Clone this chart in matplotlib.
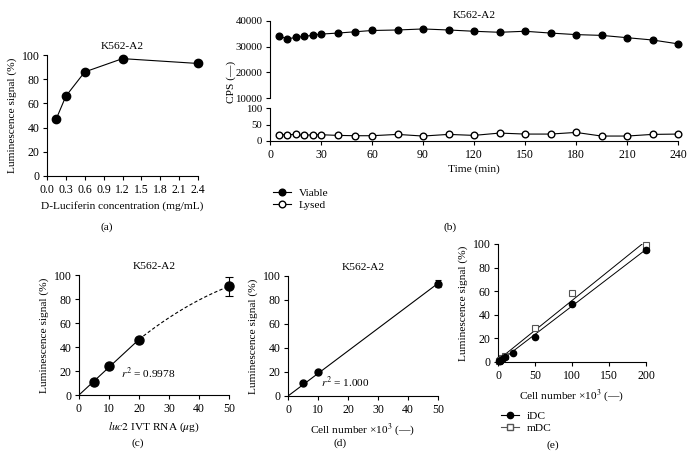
import matplotlib
matplotlib.use("Agg")
import matplotlib.pyplot as plt
from matplotlib.lines import Line2D
import numpy as np

plt.rcParams['font.family'] = ['Liberation Serif', 'DejaVu Serif']
plt.rcParams['mathtext.fontset'] = 'stix'
plt.rcParams['font.size'] = 8.2
plt.rcParams['xtick.labelsize'] = 8.5
plt.rcParams['ytick.labelsize'] = 8.5
plt.rcParams['axes.linewidth'] = 0.8
plt.rcParams['xtick.major.size'] = 3
plt.rcParams['ytick.major.size'] = 3
plt.rcParams['xtick.major.width'] = 0.8
plt.rcParams['ytick.major.width'] = 0.8
plt.rcParams['xtick.major.pad'] = 2.5
plt.rcParams['ytick.major.pad'] = 2.5

# (a) D-Luciferin titration
conc = [0.15, 0.3, 0.6, 1.2, 2.4]
lum_a = [47.5, 66, 86, 97, 93]

# (b) time course
t_min = [5, 10, 15, 20, 25, 30, 40, 50, 60, 75, 90, 105, 120, 135, 150, 165, 180, 195, 210, 225, 240]
viable = [34300, 33000, 33600, 34000, 34400, 34900, 35300, 35800, 36300, 36500, 36900, 36500,
          36000, 35600, 36000, 35300, 34700, 34400, 33500, 32600, 31100]
lysed = [19, 19, 20, 17, 19, 19, 17, 16, 16, 20, 15, 20, 17, 24, 21, 21, 26, 15, 15, 20, 21]

# (c) luc2 IVT RNA
rna = [5, 10, 20, 50]
lum_c = [11, 24, 46, 90.5]
err_c = [0, 0, 0, 8]

# (d) cell number K562-A2
cells_d = [5, 10, 50]
lum_d = [10.5, 20, 93.5]
err_d = [0, 0, 3]

# (e) iDC / mDC
cells_idc = [1, 2.5, 5, 10, 20, 50, 100, 200]
lum_idc = [0.5, 1.2, 2.4, 4, 8, 21, 49.5, 95]
err_idc = [0, 0, 0, 0, 0, 0, 0, 2]
cells_mdc = [1, 2.5, 5, 10, 50, 100, 200]
lum_mdc = [0.8, 1.6, 3, 5.5, 29, 58.5, 99]

W, H = 692, 467
fig = plt.figure(figsize=(W / 100, H / 100), dpi=100)


def box(x0, y0, x1, y1):
    return [x0 / W, 1 - y1 / H, (x1 - x0) / W, (y1 - y0) / H]


def style(ax):
    ax.spines['top'].set_visible(False)
    ax.spines['right'].set_visible(False)


# ---- (a)
ax = fig.add_axes(box(47, 55, 198, 176))
style(ax)
ax.plot(conc, lum_a, 'k-o', lw=0.8, ms=6, clip_on=False)
ax.set_xlim(0, 2.4)
ax.set_ylim(0, 100)
ax.set_xticks(np.arange(0, 2.41, 0.3))
ax.set_xticklabels(['%.1f' % v for v in np.arange(0, 2.41, 0.3)])
ax.set_yticks(range(0, 101, 20))
ax.set_title('K562-A2', fontsize=8.2, pad=4)
ax.set_xlabel('D-Luciferin concentration (mg/mL)', labelpad=4)
ax.set_ylabel('Luminescence signal (%)', labelpad=3)
fig.text(107 / W, 1 - 227 / H, '(a)', ha='center', va='center')

# ---- (b)
axt = fig.add_axes(box(270, 21, 678, 98))
axb = fig.add_axes(box(270, 108, 678, 141))
for a in (axt, axb):
    style(a)
    a.set_xlim(0, 240)
    a.tick_params(axis='y', labelsize=7.8)
axt.spines['bottom'].set_visible(False)
axt.tick_params(axis='x', bottom=False, labelbottom=False)
axt.plot(t_min, viable, 'k-o', lw=0.8, ms=4.8, clip_on=False)
axt.set_ylim(10000, 40000)
axt.set_yticks([10000, 20000, 30000, 40000])
axt.set_title('K562-A2', fontsize=8.2, pad=2)
axb.plot(t_min, lysed, 'k-o', mfc='white', lw=0.8, ms=4.8, clip_on=False)
axb.set_ylim(0, 100)
axb.set_yticks([0, 50, 100])
axb.set_xticks(range(0, 241, 30))
axb.set_xlabel('Time (min)', labelpad=3)
fig.text(231 / W, 1 - 82 / H, 'CPS (—)', rotation=90, ha='center', va='center')
handles = [Line2D([], [], color='k', marker='o', lw=0.8, ms=4.8),
           Line2D([], [], color='k', marker='o', mfc='white', lw=0.8, ms=4.8)]
fig.legend(handles, ['Viable', 'Lysed'], loc='upper left', bbox_to_anchor=(268 / W, 1 - 183 / H),
           frameon=False, handlelength=1.6, handletextpad=0.7, labelspacing=0.25, borderaxespad=0)
fig.text(450 / W, 1 - 227 / H, '(b)', ha='center', va='center')

# ---- (c)
ax = fig.add_axes(box(79, 275, 229, 395))
style(ax)
x_fit = np.array(rna[:3])
slope_c = np.sum(x_fit * np.array(lum_c[:3])) / np.sum(x_fit ** 2)
ax.plot([0, 20], [0, 20 * slope_c], 'k-', lw=0.8)
coef = np.polyfit([0, 20, 50], [0, 20 * slope_c, lum_c[3]], 2)
xc = np.linspace(20, 50, 50)
ax.plot(xc, np.polyval(coef, xc), 'k--', lw=0.8, dashes=(3, 2))
ax.errorbar(rna, lum_c, yerr=err_c, fmt='ko', ms=6.5, capsize=3, elinewidth=0.8,
            capthick=0.8, clip_on=False)
ax.set_xlim(0, 50)
ax.set_ylim(0, 100)
ax.set_xticks([0, 10, 20, 30, 40, 50])
ax.set_yticks(range(0, 101, 20))
ax.text(14, 18, r'$r^2$ = 0.9978', va='center')
ax.set_title('K562-A2', fontsize=8.2, pad=4)
ax.set_xlabel(r'$\it{luc2}$ IVT RNA ($\mu$g)', labelpad=4)
ax.set_ylabel('Luminescence signal (%)', labelpad=3)
fig.text(138 / W, 1 - 443 / H, '(c)', ha='center', va='center')

# ---- (d)
ax = fig.add_axes(box(288, 276, 438, 396))
style(ax)
xd = np.array(cells_d)
slope_d = np.sum(xd * np.array(lum_d)) / np.sum(xd ** 2)
ax.plot([0, 50], [0, 50 * slope_d], 'k-', lw=0.8)
ax.errorbar(cells_d, lum_d, yerr=err_d, fmt='ko', ms=5, capsize=2.5, elinewidth=0.8,
            capthick=0.8, clip_on=False)
ax.set_xlim(0, 50)
ax.set_ylim(0, 100)
ax.set_xticks([0, 10, 20, 30, 40, 50])
ax.set_yticks(range(0, 101, 20))
ax.text(11, 11, r'$r^2$ = 1.000', va='center')
ax.set_title('K562-A2', fontsize=8.2, pad=4)
ax.set_xlabel(r'Cell number ×10$^3$ (—)', labelpad=4)
ax.set_ylabel('Luminescence signal (%)', labelpad=3)
fig.text(340 / W, 1 - 443 / H, '(d)', ha='center', va='center')

# ---- (e)
ax = fig.add_axes(box(498, 244, 646, 362))
style(ax)
pi = np.polyfit(cells_idc, lum_idc, 1)
pm = np.polyfit(cells_mdc, lum_mdc, 1)
xe = np.array([0, 200])
ax.plot(xe, np.polyval(pi, xe), 'k-', lw=0.7)
ax.plot(xe, np.polyval(pm, xe), 'k-', lw=0.7)
ax.errorbar(cells_idc, lum_idc, yerr=err_idc, fmt='ko', ms=4.5, capsize=2, elinewidth=0.8,
            capthick=0.8, clip_on=False, zorder=4)
ax.plot(cells_mdc, lum_mdc, 's', color='#555555', mfc='white', ms=5, mew=0.8,
        clip_on=False, zorder=3)
ax.set_xlim(0, 200)
ax.set_ylim(0, 100)
ax.set_xticks([0, 50, 100, 150, 200])
ax.set_yticks(range(0, 101, 20))
ax.set_xlabel(r'Cell number ×10$^3$ (—)', labelpad=4)
ax.set_ylabel('Luminescence signal (%)', labelpad=3)
handles = [Line2D([], [], color='k', marker='o', lw=0.8, ms=4.5),
           Line2D([], [], color='#555555', marker='s', mfc='white', lw=0.8, ms=4.5)]
fig.legend(handles, ['iDC', 'mDC'], loc='upper left', bbox_to_anchor=(496 / W, 1 - 406 / H),
           frameon=False, handlelength=1.6, handletextpad=0.7, labelspacing=0.25, borderaxespad=0)
fig.text(553 / W, 1 - 445 / H, '(e)', ha='center', va='center')

fig.savefig('out.png', dpi=100)
